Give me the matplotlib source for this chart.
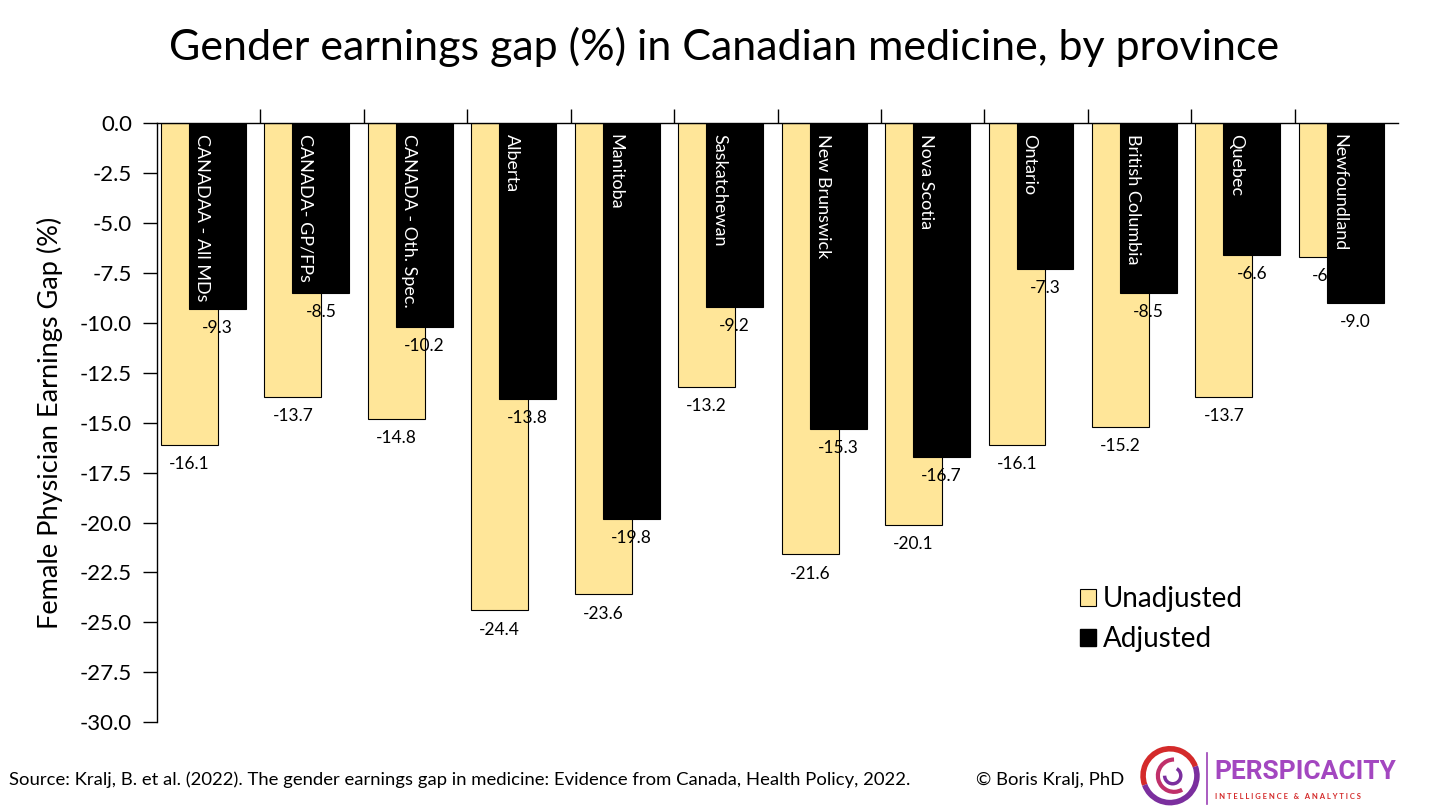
import numpy as np
import matplotlib
matplotlib.use("Agg")
import matplotlib.pyplot as plt
from matplotlib.patches import Patch, Arc

plt.rcParams['font.family'] = ['Lato', 'DejaVu Sans']

# data
categories = ["CANADAA - All MDs", "CANADA- GP/FPs", "CANADA - Oth. Spec.", "Alberta",
              "Manitoba", "Saskatchewan", "New Brunswick", "Nova Scotia", "Ontario",
              "British Columbia", "Quebec", "Newfoundland"]
unadjusted = [-16.1, -13.7, -14.8, -24.4, -23.6, -13.2, -21.6, -20.1, -16.1, -15.2, -13.7, -6.7]
adjusted = [-9.3, -8.5, -10.2, -13.8, -19.8, -9.2, -15.3, -16.7, -7.3, -8.5, -6.6, -9.0]
yticks = np.arange(0, -30.1, -2.5)

gold = '#FFE699'

fig = plt.figure(figsize=(14.4, 8.08), dpi=100)
ax = fig.add_axes([0.109, 0.106, 0.862, 0.742])

x = np.arange(len(categories))
w = 0.55
ax.bar(x - 0.186, unadjusted, w, color=gold, edgecolor='black', linewidth=0.8, zorder=2)
ax.bar(x + 0.085, adjusted, w, color='black', edgecolor='black', linewidth=0.8, zorder=4)

for i in range(len(categories)):
    ax.annotate(f"{unadjusted[i]:.1f}", (x[i] - 0.186, unadjusted[i]), xytext=(0, -8),
                textcoords='offset points', ha='center', va='top', fontsize=12.5, zorder=3)
    ax.annotate(f"{adjusted[i]:.1f}", (x[i] + 0.085, adjusted[i]), xytext=(0, -8),
                textcoords='offset points', ha='center', va='top', fontsize=12.5, zorder=5)
    ax.text(x[i] - 0.065, -0.55, categories[i], rotation=-90, ha='center', va='top',
            color='white', fontsize=13, zorder=6)

ax.set_xlim(-0.5, len(categories) - 0.5)
ax.set_ylim(-30, 0)
ax.set_yticks(yticks)
ax.set_yticklabels([f"{t:.1f}" for t in yticks], fontsize=16)
ax.tick_params(axis='y', direction='out', length=10, width=1, pad=8)

ax.xaxis.tick_top()
ax.set_xticks(np.arange(0.5, len(categories) - 1, 1.0))
ax.set_xticklabels([])
ax.tick_params(axis='x', direction='out', length=10, width=1)

ax.spines['bottom'].set_visible(False)
ax.spines['right'].set_visible(False)
ax.spines['top'].set_linewidth(1)
ax.spines['left'].set_linewidth(1)

ax.set_ylabel("Female Physician Earnings Gap (%)", fontsize=19.5, labelpad=12)

handles = [Patch(facecolor=gold, edgecolor='black', linewidth=0.8, label='Unadjusted'),
           Patch(facecolor='black', edgecolor='black', label='Adjusted')]
fig.legend(handles=handles, loc='upper left', bbox_to_anchor=(0.742, 0.288), frameon=False,
           fontsize=20, handlelength=0.6, handleheight=0.6, handletextpad=0.25,
           labelspacing=0.5, borderaxespad=0)

fig.text(0.503, 0.942, "Gender earnings gap (%) in Canadian medicine, by province",
         ha='center', va='center', fontsize=31)

fig.text(0.006, 0.035, "Source: Kralj, B. et al. (2022). The gender earnings gap in medicine: Evidence from Canada, Health Policy, 2022.",
         ha='left', va='center', fontsize=13.3)
fig.text(0.678, 0.035, "\u00a9 Boris Kralj, PhD", ha='left', va='center', fontsize=13.3)

# rough logo
lax = fig.add_axes([0.79, 0.0, 0.045, 0.08])
lax.set_xlim(-1.2, 1.2)
lax.set_ylim(-1.2, 1.2)
lax.set_aspect('equal')
lax.axis('off')
lax.add_patch(Arc((0, 0), 2.0, 2.0, theta1=20, theta2=200, color='#D42A2A', lw=4))
lax.add_patch(Arc((0, 0), 2.0, 2.0, theta1=200, theta2=380, color='#7B2F9E', lw=4))
lax.add_patch(Arc((0.15, 0), 1.2, 1.2, theta1=90, theta2=300, color='#C0306A', lw=3))
lax.add_patch(Arc((0.1, 0), 0.6, 0.6, theta1=180, theta2=420, color='#7B2F9E', lw=2.5))
fig.add_artist(plt.Line2D([0.8385, 0.8385], [0.005, 0.068], color='#9B3FB5', lw=1.2))
fig.text(0.843, 0.044, "PERSPICACITY", ha='left', va='center', fontsize=19,
         fontweight='bold', color='#A347C0', family=['Roboto', 'DejaVu Sans'])
fig.text(0.844, 0.014, "I N T E L L I G E N C E   &   A N A L Y T I C S", ha='left', va='center',
         fontsize=5.5, color='#D42A2A', fontweight='bold')

fig.savefig("out.png", dpi=100)
